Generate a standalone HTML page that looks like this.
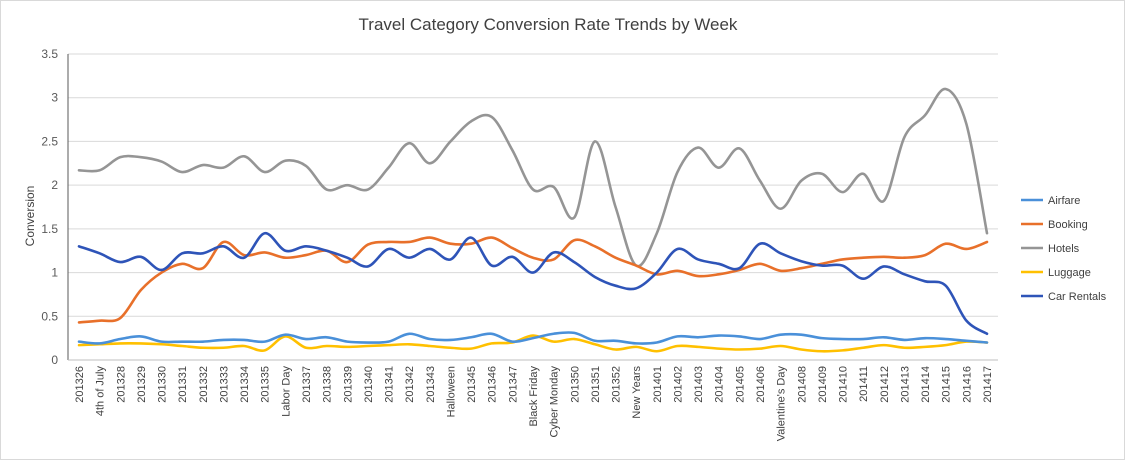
<!DOCTYPE html>
<html><head><meta charset="utf-8"><style>
body{margin:0;background:#fff}
svg{display:block;font-family:"Liberation Sans",sans-serif}
</style></head><body>
<svg id="s" width="1125" height="460" xmlns="http://www.w3.org/2000/svg">
<rect x="0.5" y="0.5" width="1124" height="459" fill="#fff" stroke="#d9d9d9"/>
<text x="548" y="30" font-size="17" fill="#404040" text-anchor="middle">Travel Category Conversion Rate Trends by Week</text>
<text transform="translate(34,216) rotate(-90)" font-size="12" fill="#404040" text-anchor="middle">Conversion</text>
<g id="g"></g>
</svg>
<script>
const NS="http://www.w3.org/2000/svg",g=document.getElementById('g');
const X0=79,DX=(987-79)/44,Y0=360,YS=(360-54)/3.5;
const labels=["201326","4th of July","201328","201329","201330","201331","201332","201333","201334","201335","Labor Day","201337","201338","201339","201340","201341","201342","201343","Halloween","201345","201346","201347","Black Friday","Cyber Monday","201350","201351","201352","New Years","201401","201402","201403","201404","201405","201406","Valentine's Day","201408","201409","201410","201411","201412","201413","201414","201415","201416","201417"];
function el(t,a,txt){const e=document.createElementNS(NS,t);for(const k in a)e.setAttribute(k,a[k]);if(txt!=null)e.textContent=txt;g.appendChild(e);return e;}
for(let i=0;i<=7;i++){const v=i*0.5,y=Y0-v*YS;
 if(i>0)el('line',{x1:68,x2:998,y1:y,y2:y,stroke:'#d9d9d9','stroke-width':1});
 el('text',{x:58,y:y+4,'font-size':12,fill:'#595959','text-anchor':'end'},i==0?'0':String(v));}
el('line',{x1:68,x2:68,y1:54,y2:360,stroke:'#595959','stroke-width':1});
el('line',{x1:68,x2:998,y1:360,y2:360,stroke:'#bfbfbf','stroke-width':1});
labels.forEach((l,i)=>{const x=X0+i*DX+4;el('text',{transform:`translate(${x},366) rotate(-90)`,'font-size':11,fill:'#404040','text-anchor':'end'},l);});
const S={
Airfare:['#4a90d9',[0.21,0.19,0.24,0.27,0.21,0.21,0.21,0.23,0.23,0.21,0.29,0.24,0.26,0.21,0.2,0.21,0.3,0.24,0.23,0.26,0.3,0.21,0.25,0.3,0.31,0.22,0.22,0.19,0.2,0.27,0.26,0.28,0.27,0.24,0.29,0.29,0.25,0.24,0.24,0.26,0.23,0.25,0.24,0.22,0.2]],
Booking:['#e8702a',[0.43,0.45,0.48,0.8,1.0,1.1,1.05,1.35,1.2,1.23,1.17,1.2,1.25,1.12,1.32,1.35,1.35,1.4,1.33,1.33,1.4,1.28,1.17,1.15,1.37,1.3,1.17,1.08,0.98,1.02,0.96,0.98,1.03,1.1,1.02,1.05,1.1,1.15,1.17,1.18,1.17,1.2,1.33,1.27,1.35]],
Hotels:['#959595',[2.17,2.17,2.32,2.32,2.27,2.15,2.23,2.2,2.33,2.15,2.28,2.22,1.95,2.0,1.95,2.2,2.48,2.25,2.5,2.73,2.78,2.4,1.95,1.98,1.63,2.5,1.75,1.08,1.45,2.15,2.43,2.2,2.42,2.05,1.73,2.05,2.13,1.92,2.13,1.82,2.55,2.8,3.1,2.7,1.45]],
Luggage:['#ffc000',[0.17,0.18,0.19,0.19,0.18,0.16,0.14,0.14,0.16,0.11,0.27,0.14,0.16,0.15,0.16,0.17,0.18,0.16,0.14,0.13,0.19,0.2,0.28,0.21,0.24,0.18,0.12,0.15,0.1,0.16,0.15,0.13,0.12,0.13,0.16,0.12,0.1,0.11,0.14,0.17,0.14,0.15,0.17,0.21,0.2]],
"Car Rentals":['#2e54b8',[1.3,1.22,1.12,1.18,1.03,1.22,1.22,1.3,1.17,1.45,1.25,1.3,1.25,1.17,1.07,1.27,1.17,1.27,1.15,1.4,1.08,1.18,1.0,1.23,1.12,0.95,0.85,0.82,1.0,1.27,1.15,1.1,1.05,1.33,1.22,1.13,1.08,1.08,0.93,1.07,0.98,0.9,0.85,0.45,0.3]]};
function path(d){const p=d.map((v,i)=>[X0+i*DX,Y0-v*YS]);let s=`M${p[0][0]},${p[0][1]}`;
 for(let i=0;i<p.length-1;i++){const a=p[Math.max(0,i-1)],b=p[i],c=p[i+1],e=p[Math.min(p.length-1,i+2)],t=1/6;
 s+=`C${b[0]+(c[0]-a[0])*t},${b[1]+(c[1]-a[1])*t} ${c[0]-(e[0]-b[0])*t},${c[1]-(e[1]-b[1])*t} ${c[0]},${c[1]}`;}return s;}
const order=["Hotels","Luggage","Airfare","Booking","Car Rentals"];
order.forEach(k=>el('path',{d:path(S[k][1]),fill:'none',stroke:S[k][0],'stroke-width':2.6,'stroke-linejoin':'round','stroke-linecap':'round'}));
Object.keys(S).forEach((k,i)=>{const y=200+i*24;el('line',{x1:1021,x2:1043,y1:y,y2:y,stroke:S[k][0],'stroke-width':2.6});
 el('text',{x:1048,y:y+4,'font-size':11,fill:'#404040'},k);});
</script>
</body></html>
